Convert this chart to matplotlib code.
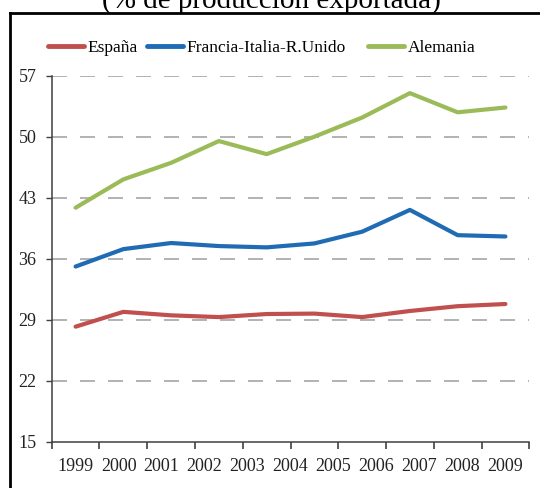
import matplotlib
matplotlib.use("Agg")
import matplotlib.pyplot as plt
from matplotlib.lines import Line2D
import numpy as np

years = ["1999", "2000", "2001", "2002", "2003", "2004", "2005", "2006", "2007", "2008", "2009"]
espana = [28.2, 29.9, 29.5, 29.3, 29.65, 29.7, 29.3, 30.0, 30.55, 30.8]
francia_italia_ru = [35.1, 37.1, 37.8, 37.45, 37.3, 37.75, 39.1, 41.6, 38.7, 38.55]
alemania = [41.85, 45.1, 47.0, 49.5, 48.0, 50.0, 52.2, 55.0, 52.8, 53.35]
yticks = [15, 22, 29, 36, 43, 50, 57]
series_names = ["España", "Francia-Italia-R.Unido", "Alemania"]
colors = ["#C0504D", "#1F6CB5", "#9BBB59"]

plt.rcParams['font.family'] = ['Liberation Serif', 'DejaVu Serif']

W, H = 540, 488
fig = plt.figure(figsize=(W / 100, H / 100), dpi=100)
ax = fig.add_axes([51.7 / W, (H - 441.7) / H, (529.3 - 51.7) / W, (441.7 - 75.7) / H])

n = len(espana)
x = np.arange(n)
for vals, c, name in zip([espana, francia_italia_ru, alemania], colors, series_names):
    ax.plot(x, vals, color=c, lw=3.0, solid_capstyle='round', solid_joinstyle='round', label=name, zorder=3)

ax.set_xlim(-0.5, n - 0.5)
ax.set_ylim(yticks[0], yticks[-1])

# gridlines
for yv in yticks[1:]:
    ax.axhline(yv, color='#A6A6A6', lw=1.2, dashes=(9, 7.8), zorder=1)

ax.xaxis.remove_overlapping_locs = False
ax.set_yticks(yticks)
ax.set_yticklabels([str(v) for v in yticks])
ax.set_xticks(np.arange(-0.5, n, 1.0))
ax.set_xticklabels([])
ax.set_xticks(np.linspace(0, n - 1, len(years)), minor=True)
ax.set_xticklabels(years, minor=True)
ax.tick_params(axis='x', which='minor', length=0, pad=12, labelsize=13, labelcolor='#222222')
ax.tick_params(axis='x', which='major', length=5, width=1.2, color='#404040', direction='out')
ax.tick_params(axis='y', length=4, width=1.0, color='#404040', pad=7, labelsize=13, labelcolor='#222222')

for s in ['top', 'right']:
    ax.spines[s].set_visible(False)
for s in ['left', 'bottom']:
    ax.spines[s].set_color('#404040')
    ax.spines[s].set_linewidth(1.1)

# legends
leg_x = [48, 147, 368]
for name, c, lx in zip(series_names, colors, leg_x):
    h = Line2D([], [], color=c, lw=3.5, solid_capstyle='round')
    fig.legend(handles=[h], labels=[name], loc='center left',
               bbox_to_anchor=(lx / W, 1 - 48 / H), frameon=False,
               borderpad=0, borderaxespad=0, handlelength=2.1, handletextpad=0.2,
               prop={'size': 12.5})

# frame
fig.add_artist(Line2D([10 / W, 10 / W], [0, 1 - 13 / H], transform=fig.transFigure, color='black', lw=2.0))
fig.add_artist(Line2D([10 / W, 1.0], [1 - 13 / H, 1 - 13 / H], transform=fig.transFigure, color='black', lw=2.0))

# title (cut off at top, as in the reference)
fig.text(271 / W, 1 - 8 / H, "(% de producción exportada)", ha='center', va='baseline', fontsize=21, color='black')

fig.savefig("out.png", dpi=100)
